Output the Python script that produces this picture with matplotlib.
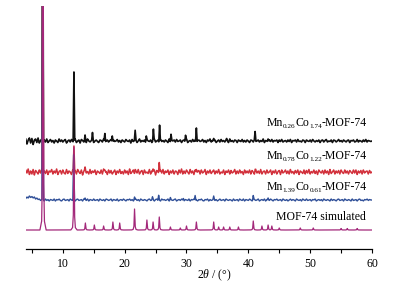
import numpy as np
import matplotlib
matplotlib.use("Agg")
import matplotlib.pyplot as plt
from matplotlib.transforms import IdentityTransform

plt.rcParams['font.family'] = ['Liberation Serif', 'DejaVu Serif']
plt.rcParams['mathtext.fontset'] = 'custom'
plt.rcParams['mathtext.rm'] = 'Liberation Serif'
plt.rcParams['mathtext.it'] = 'Liberation Serif:italic'
plt.rcParams['mathtext.bf'] = 'Liberation Serif:bold'

# ---------------- data (intensity in arbitrary units, offset stacked) ----------------
# label pieces: (text, is_subscript)
labels = [
    [('Mn', False), ('0.26', True), ('Co', False), ('1.74', True), ('-MOF-74', False)],
    [('Mn', False), ('0.78', True), ('Co', False), ('1.22', True), ('-MOF-74', False)],
    [('Mn', False), ('1.39', True), ('Co', False), ('0.61', True), ('-MOF-74', False)],
    [('MOF-74 simulated', False)],
]
colors = ['#111111', '#d2313c', '#2f4f98', '#a3287a']
offsets = [108, 77, 49, 19]

# peak positions (2theta) and heights
black_pos = [6.75, 11.8, 13.6, 14.8, 16.8, 18.0, 21.7, 23.5, 24.65, 25.65, 27.5, 29.85, 31.6, 34.4, 36.5, 41.1, 43.2]
black_h = [300, 70, 5, 7, 9, 7, 10, 5, 11, 17, 7, 6, 15, 3, 2, 9, 3]

red_pos = [6.75, 11.8, 13.6, 16.8, 21.7, 24.6, 25.6, 31.6, 41.1]
red_h = [300, 27, 3, 3, 3, 4, 11, 4, 3]

blue_pos = [6.75, 11.75, 13.6, 21.6, 24.5, 25.5, 27.4, 29.5, 31.4, 34.4, 40.8, 43.2]
blue_h = [300, 45, 2, 3, 3, 5, 2, 2, 5, 3, 4, 2]

sim_pos = [6.8, 11.8, 13.65, 15.1, 16.6, 18.1, 19.2, 21.6, 23.6, 24.6, 25.6, 27.4, 29.0, 30.0,
           31.6, 34.4, 35.2, 36.0, 37.0, 38.4, 40.8, 42.2, 43.2, 43.8, 45.0, 48.4, 50.5, 55.0, 56.0, 57.6]
sim_h = [300, 83, 7, 5, 4, 8, 7, 21, 10, 8, 13, 3, 2, 4, 8, 8, 3, 3, 3, 3, 9, 4, 5, 4, 2, 2, 2,
         1.5, 1.5, 1.5]

# baseline noise (0.2 deg steps, 4..60)
black_noise = [
    2, -3, 1, 3, -2, 2.5, -3.5, 1, 2, -1.5, 3, -2, 0.5, 2, -2.5, 1, -1, 2, -1.5, 0,
    1.5, -1, 0.5, -2, 1, 0, -1.5, 2, -0.5, 1, -1, 0.5, 1.5, -2, 0, 1, -1, 1.5, -0.5, -1,
    2, -1.5, 0, 1, -2, 1.5, 0.5, -1, 1, -1.5, 2, 0, -1, 0.5, 1.5, -1.5, 0, 1, -0.5, -1.5,
    1, 0.5, -1, 2, -1.5, 0, 1, -1, 0.5, 1.5, -2, 1, -0.5, 0, 1.5, -1, 0.5, -1.5, 1, 0,
    -1, 1.5, 0, -0.5, 1, -2, 1.5, -0.5, 0.5, 1, -1.5, 0, 2, -1, 0.5, -0.5, 1, -1.5, 1.5, 0,
    -0.5, 1, -1.5, 0.5, 2, -1, 0, 1, -2, 1.5, -0.5, 0.5, -1, 1, 0, -1.5, 2, -1, 0.5, 0,
    1, -1, 1.5, -0.5, 0, 1, -1.5, 0.5, 1, -1, 2, -1.5, 0, 0.5, -1, 1.5, -0.5, 1, -2, 0.5,
    1, -0.5, 0, 1.5, -1, 0.5, -1.5, 1, 0, 2, -1, 0.5, -0.5, 1, -1.5, 0, 1, -1, 1.5, -0.5,
    0.5, -1, 1, 0, -1.5, 2, -0.5, 0.5, -1, 1, 0.5, -1.5, 1, 0, -0.5, 1.5, -1, 0.5, -1, 1,
    0, -1.5, 1, 0.5, -1, 1.5, -0.5, 0, 1, -1, 0.5, -0.5, 2, -1.5, 0.5, 0, -1, 1, -0.5, 1.5,
    -1, 0.5, 0, 1, -1.5, 1, -0.5, 1.5, -1, 0, 0.5, -1, 1, -0.5, 1.5, -1.5, 0.5, 0, 1, -1,
    1.5, -0.5, 0, -1, 1, 0.5, -1.5, 1, 0, -0.5, 1, -1, 1.5, 0, -1, 0.5, -0.5, 1, -1.5, 0.5,
    1, -1, 0.5, 1.5, -1, 0, -0.5, 1, -1.5, 1, 0.5, -1, 0, 1.5, -0.5, 0.5, -1, 1, 0, -1,
    0.5, 1, -1.5, 0.5, 0, 1, -1, -0.5, 1.5, -1, 0.5, 0, -1, 1, -0.5, 1.5, -1, 0.5, 0, -0.5,
    0]
red_noise = [
    2, -1, 3, -2.5, 1, -2, 2.5, -3, 1.5, 0, -2, 2, -1, 3, -2, 1, -1.5, 2, -2.5, 1,
    0, 2.5, -2, 1, -1, 3, -2.5, 0.5, 1.5, -2, 2, -1, -2, 2.5, -1.5, 1, 0, -2.5, 2, -1,
    1.5, -2, 2.5, 0, -1.5, 2, -3, 1, 2, -1, 0.5, -2, 2.5, -1.5, 1, -0.5, 2, -2.5, 1, 0,
    -1.5, 2, -2, 3, -1, 0.5, -2.5, 2, -1, 1.5, -2, 0, 2, -2.5, 1, -1, 2.5, -1.5, 0.5, -2,
    2, -1, 1, -2.5, 3, -1.5, 0, 2, -2, 1, -1, 2.5, -2, 0.5, 1.5, -2.5, 2, -1, 0, -1.5,
    2.5, -2, 1, -1, 2, -3, 1.5, 0, -1.5, 2, -1, 2.5, -2, 1, -0.5, 2, -2.5, 1, -1, 2,
    -2, 1, 0.5, -2.5, 2, -1, 3, -2, 1, -1.5, 2, 0, -2, 2.5, -1, 1, -2.5, 2, -1.5, 0.5,
    1.5, -2, 2, -1, 0, 2.5, -2.5, 1, -1, 2, -1.5, 0.5, 2, -2, 1, -1, 2.5, -2, 0, -1,
    2, -2.5, 1, -0.5, 2, -2, 1.5, -1, 0, 2.5, -2, 1, -1.5, 2, -1, 0.5, -2.5, 2, -1, 1,
    -1, 2, -2, 1.5, 0, -2.5, 2, -1, 1, -1.5, 2.5, -2, 0.5, 1, -2, 2, -1, 0, 2, -2.5,
    1, -1, 2, -2, 0.5, 1.5, -2.5, 2, -1, 0, 2, -1.5, 1, -2, 2.5, -1, 0.5, -2, 1.5, -1,
    2, -2.5, 1, 0, -1.5, 2, -2, 1.5, -1, 2.5, -2, 0.5, -1, 2, -1.5, 1, -2.5, 2, 0, -1,
    1.5, -2, 2, -1, 1, -2.5, 2.5, -1.5, 0, 2, -2, 1, -1, 1.5, -2, 2, -0.5, -1.5, 2, -1,
    1, -2, 1.5, 0, -1.5, 2, -1, 2, -2.5, 1, -1, 1.5, -2, 2, -1, 0.5, 1, -2, 1.5, -1,
    0]
blue_noise = [
    1.5, 3, 2, 4, 2.5, 3.5, 2, 3, 1, 2, 0.5, 1, -0.5, 0.5, 0, -1, 1, -0.5, 0.5, -1,
    0.5, 0, -0.5, 1, -1, 0.5, 0, 1, -0.5, -1, 0.5, 1, -0.5, 0, 0.5, -1, 1, 0, -0.5, 0.5,
    -1, 0.5, 1, -0.5, 0, 0.5, -1, 1, 0, -0.5, 1, -1, 0.5, 0, -0.5, 1, -0.5, 0, 0.5, -1,
    1, 0, -0.5, 0.5, -1, 1, 0.5, -0.5, 0, 1, -1, 0.5, 0, -0.5, 1, -1, 0, 0.5, -0.5, 1,
    0, -1, 0.5, 0, 1, -0.5, 0.5, -1, 0, 1, -0.5, 0.5, -1, 1, 0, -0.5, 0.5, 0, -1, 0.5,
    1, -0.5, 0, 0.5, -1, 0.5, 1, -0.5, 0, -1, 1, 0, 0.5, -0.5, 0, 1, -1, 0.5, 0, -0.5,
    0.5, 1, -1, 0, 0.5, -0.5, 1, 0, -1, 0.5, 0, -0.5, 1, -1, 0.5, 0, 1, -0.5, 0, -1,
    0.5, 0, 1, -0.5, -1, 0.5, 0, 1, -1, 0.5, -0.5, 0, 1, -0.5, 0.5, -1, 0, 1, -0.5, 0,
    0.5, -1, 1, 0, -0.5, 0.5, 0, -1, 1, -0.5, 0, 0.5, -1, 1, 0, -0.5, 1, -1, 0.5, 0,
    -0.5, 1, 0, -1, 0.5, 0.5, -0.5, 0, 1, -1, 0, 0.5, -0.5, 1, -1, 0.5, 0, -0.5, 1, 0,
    -1, 0.5, 0, 1, -0.5, 0, 0.5, -1, 1, 0, -0.5, 0.5, -1, 0, 1, -0.5, 0.5, 0, -1, 1,
    0, -0.5, 0.5, -1, 1, 0, -0.5, 1, -0.5, 0, 0.5, -1, 0.5, 0, 1, -1, 0, 0.5, -0.5, 0.5,
    -1, 1, 0, -0.5, 0.5, 0, -1, 1, -0.5, 0.5, 0, -1, 0.5, 1, -0.5, 0, 0.5, -1, 1, 0,
    -0.5, 0.5, 0, -1, 1, -0.5, 0, 0.5, -1, 0.5, 1, -0.5, 0, -1, 0.5, 0, 1, -0.5, 0.5, 0,
    0]
sim_noise = [0, 0]

x_ticks = [10, 20, 30, 40, 50, 60]
x_label = r'2$\it{\theta}$ / (°)'

# ---------------- build traces ----------------
x = np.linspace(4, 60, 5601)
exp_off = np.array([-0.13, 0.0, 0.13])
exp_frac = np.array([0.0, 1.0, 0.0])
sim_off = np.array([-0.5, -0.22, -0.1, 0.0, 0.1, 0.22, 0.5])
sim_frac = np.array([0.0, 0.03, 0.18, 1.0, 0.18, 0.03, 0.0])


def trace(pos, h, noise, off, frac):
    nx = np.linspace(4, 60, len(noise))
    y = np.interp(x, nx, noise)
    for p, hh in zip(pos, h):
        y = y + np.interp(x, p + off, hh * frac, left=0, right=0)
    return y


series = [
    trace(black_pos, black_h, black_noise, exp_off, exp_frac),
    trace(red_pos, red_h, red_noise, exp_off, exp_frac),
    trace(blue_pos, blue_h, blue_noise, exp_off, exp_frac),
    trace(sim_pos, sim_h, sim_noise, sim_off, sim_frac),
]

# ---------------- figure ----------------
W, H = 396, 283
fig = plt.figure(figsize=(W / 100, H / 100), dpi=100)
L, R, B, T = 25.7, 372, 249, 6
ax = fig.add_axes([L / W, 1 - B / H, (R - L) / W, (B - T) / H])

lws = [1.2, 1.1, 1.0, 0.9]
for y, off, c, lw in zip(series, offsets, colors, lws):
    ax.plot(x, y + off, color=c, lw=lw)

ax.set_xlim(4, 60)
ax.set_ylim(0, B - T)

for s in ['left', 'right', 'top']:
    ax.spines[s].set_visible(False)
ax.spines['bottom'].set_linewidth(0.9)
ax.set_yticks([])
ax.set_xticks(x_ticks)
ax.set_xticks([5, 15, 25, 35, 45, 55], minor=True)
ax.tick_params(axis='x', which='both', direction='out', length=3, width=0.8, pad=3.5,
               labelsize=8.5)

# labels: right edge (pixels from left) and baseline (pixels from top)
label_right = [367, 367, 367, 366]
label_base = [126, 159, 190.5, 220.5]
main_size, sub_size, sub_drop = 8.5, 5.2, 2.0

renderer = fig.canvas.get_renderer()
for pieces, xr, yb in zip(labels, label_right, label_base):
    texts = []
    for txt, is_sub in pieces:
        t = fig.text(0, 0, txt, fontsize=sub_size if is_sub else main_size,
                     ha='left', va='baseline', transform=IdentityTransform())
        texts.append((t, is_sub))
    widths = [t.get_window_extent(renderer).width for t, _ in texts]
    xpos = xr - sum(widths)
    for (t, is_sub), w in zip(texts, widths):
        ypix = (H - yb) - (sub_drop if is_sub else 0)
        t.set_position((xpos, ypix))
        xpos += w

fig.text(214 / W, 1 - 275 / H, x_label, ha='center', va='center', fontsize=8.5)

fig.savefig('out.png', dpi=100)
